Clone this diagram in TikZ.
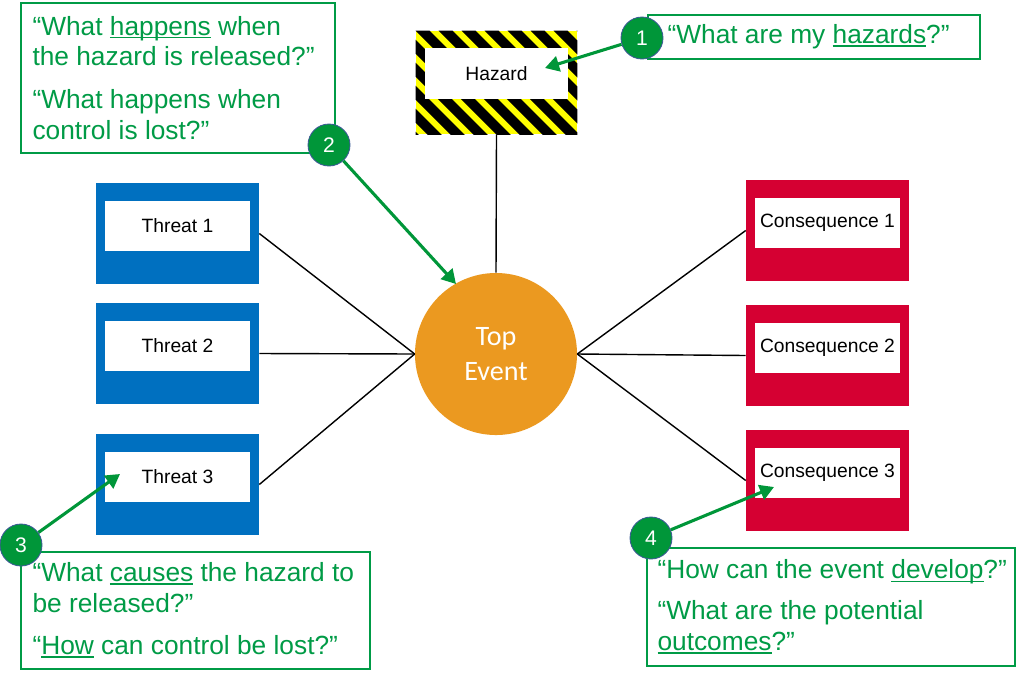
\documentclass[tikz,border=0pt]{standalone}
\usepackage{fontspec}
\setmainfont{Liberation Sans}
\newfontfamily\calfont{Carlito}
\usetikzlibrary{shapes,calc,arrows.meta}
\definecolor{tblue}{RGB}{0,112,192}
\definecolor{cred}{RGB}{213,0,50}
\definecolor{torange}{RGB}{235,153,32}
\definecolor{hyellow}{RGB}{255,255,0}
\definecolor{qgreen}{RGB}{0,155,70}
\definecolor{bgreen}{RGB}{0,150,57}
\definecolor{bblue}{RGB}{60,90,150}
\newcommand\qline[1]{\setbox0\hbox{#1}\rlap{\rule[-0.13em]{\wd0}{0.07em}}\box0\relax}

\begin{document}
\begin{tikzpicture}[x=0.025cm, y=-0.025cm,
threat/.style={rectangle, fill=tblue, minimum width=4.075cm, minimum height=2.525cm, inner sep=0},
conseq/.style={rectangle, fill=cred, minimum width=4.075cm, minimum height=2.525cm, inner sep=0},
lbl/.style={rectangle, fill=white, minimum width=3.625cm, minimum height=1.25cm, inner sep=0, font=\fontsize{13.7}{16}\selectfont},
link/.style={draw=black, line width=1pt},
qbox/.style={rectangle, draw=qgreen, line width=1pt, fill=white, inner sep=0},
qtext/.style={text=qgreen, align=left, inner sep=0, font=\fontsize{18.7}{22}\selectfont},
badge/.style={circle, draw=bblue, line width=0.6pt, fill=bgreen, text=white, minimum size=1.05cm, inner sep=0, font=\fontsize{15}{17}\selectfont},
garrow/.style={draw=bgreen, line width=2.2pt, -{Triangle[length=10pt, width=11pt]}}]

\useasboundingbox (0,0) rectangle (1024,679);

\node[rectangle, fill=hyellow, minimum width=4.025cm, minimum height=2.575cm, inner sep=0] at (496.5,82.5) (hazard) {};
\begin{scope}
\clip (hazard.south west) rectangle (hazard.north east);
\foreach \i in {0,...,13}
  \fill[black] ($(hazard.north west)+(\i*23-115,0)$) -- ++(14,0) -- ++(110,110) -- ++(-14,0) -- cycle;
\end{scope}
\node[lbl, below, minimum width=3.575cm, minimum height=1.275cm] at ([yshift=-0.425cm]hazard.north) (hazlbl) {Hazard};

\node[circle, fill=torange, minimum size=4.05cm, inner sep=0, text=white, align=center, font=\calfont\fontsize{20}{25}\selectfont] at (496,354) (top) {Top\\Event};

\node[threat] at (177.5,233.5) (threat1) {};
\node[threat] at (177.5,353.5) (threat2) {};
\node[threat] at (177.5,484.5) (threat3) {};
\node[lbl, below] at ([yshift=-0.45cm]threat1.north) (threat1lbl) {Threat 1};
\node[lbl, below] at ([yshift=-0.45cm]threat2.north) (threat2lbl) {Threat 2};
\node[lbl, below] at ([yshift=-0.45cm]threat3.north) (threat3lbl) {Threat 3};

\node[conseq] at (827.5,230.5) (cons1) {};
\node[conseq] at (827.5,355.5) (cons2) {};
\node[conseq] at (827.5,480.5) (cons3) {};
\node[lbl, below] at ([yshift=-0.45cm]cons1.north) (cons1lbl) {Consequence 1};
\node[lbl, below] at ([yshift=-0.45cm]cons2.north) (cons2lbl) {Consequence 2};
\node[lbl, below] at ([yshift=-0.45cm]cons3.north) (cons3lbl) {Consequence 3};

\draw[link] (hazard.south) -- (top.north);
\draw[link] (threat1.east) -- (top.west);
\draw[link] (threat2.east) -- (top.west);
\draw[link] (threat3.east) -- (top.west);
\draw[link] (cons1.west) -- (top.east);
\draw[link] (cons2.west) -- (top.east);
\draw[link] (cons3.west) -- (top.east);

\node[qbox, minimum width=8.3cm, minimum height=1.1cm] at (814,37) (q1) {};
\node[qtext, right] at ([xshift=0.5cm]q1.west) (q1txt) {“What are my \qline{hazards}?”};

\node[qbox, minimum width=7.85cm, minimum height=3.75cm] at (178,78) (q2) {};
\node[qtext, right] at ([xshift=0.3cm]q2.west) (q2txt) {“What \qline{happens} when\\the hazard is released?”\\[8.5pt]“What happens when\\control is lost?”};

\node[qbox, minimum width=8.725cm, minimum height=2.925cm] at (195.5,610.5) (q3) {};
\node[qtext, right] at ([xshift=0.3cm]q3.west) (q3txt) {“What \qline{causes} the hazard to\\be released?”\\[8pt]“\qline{How} can control be lost?”};

\node[qbox, minimum width=9.2cm, minimum height=2.95cm] at (831,607) (q4) {};
\node[qtext, right] at ([xshift=0.275cm]q4.west) (q4txt) {“How can the event \qline{develop}?”\\[7pt]“What are the potential\\\qline{outcomes}?”};

\node[badge] at (642,38) (b1) {1};
\node[badge] at (329,145) (b2) {2};
\node[badge] at (21,545) (b3) {3};
\node[badge] at (651,538) (b4) {4};

\coordinate (tip1) at (545,68);
\coordinate (tip2) at (456,284);
\coordinate (tip3) at (120,474);
\coordinate (tip4) at (774,487);
\draw[garrow] (b1) -- (tip1);
\draw[garrow] (b2) -- (tip2);
\draw[garrow] (b3) -- (tip3);
\draw[garrow] (b4) -- (tip4);
\end{tikzpicture}
\end{document}
